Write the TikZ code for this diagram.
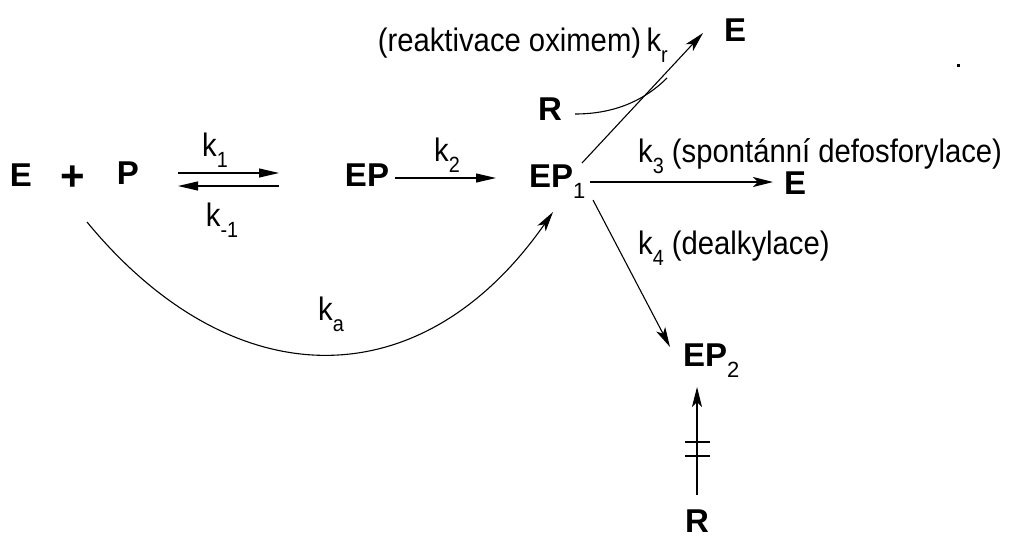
\documentclass[tikz,border=0pt]{standalone}
\usepackage{fontspec}
\setmainfont{Liberation Sans}
\newfontfamily\lblfont{Liberation Sans}[FakeStretch=0.9]
\usetikzlibrary{arrows.meta}
\newcommand\mysub[1]{\raisebox{-0.33em}{\fontsize{22}{22}\selectfont\mdseries #1}}
\begin{document}
\begin{tikzpicture}[x=1pt,y=-1pt,
  every node/.style={inner sep=0pt},
  sp/.style={font=\fontsize{33}{33}\selectfont\bfseries},
  lbl/.style={font=\lblfont\fontsize{32.5}{32.5}\selectfont},
  conn/.style={line width=1.1pt,-{Stealth[length=20pt,width=10pt,inset=5pt]}},
  tri/.style={line width=1.1pt,-{Triangle[length=20pt,width=9pt]}},
  plain/.style={line width=1.1pt}]
\useasboundingbox (0,0) rectangle (1013,539);
% species
\node[sp] (E0) at (21,175) {E};
\node[sp,font=\fontsize{42}{42}\selectfont\bfseries] (plus) at (73,178) {+};
\node[sp] (P) at (128,173) {P};
\node[sp] (EP) at (367,175) {EP};
\node[sp,anchor=west] (EP1) at (529,182) {EP\mysub{1}};
\node[sp] (Etop) at (735,30) {E};
\node[sp] (R1) at (550,109) {R};
\node[sp] (E3) at (795,183) {E};
\node[sp,anchor=west] (EP2) at (683,361) {EP\mysub{2}};
\node[sp] (R2) at (697,521) {R};
% labels
\node[lbl] (k1) at (215,150) {k\mysub{1}};
\node[lbl] (km1) at (222,220) {k\mysub{-1}};
\node[lbl] (k2) at (447,155) {k\mysub{2}};
\node[lbl] (ka) at (331,314) {k\mysub{a}};
\node[lbl,anchor=east] (kr) at (668,45) {(reaktivace oximem)\,k\mysub{r}};
\node[lbl,anchor=west] (k3) at (638,156) {k\mysub{3} (spontánní defosforylace)};
\node[lbl,anchor=west] (k4) at (638,248) {k\mysub{4} (dealkylace)};
% connector end points
\coordinate (a1) at (178,173); \coordinate (a2) at (279,173);
\coordinate (b1) at (279,186); \coordinate (b2) at (178,186);
\coordinate (c1) at (395,178); \coordinate (c2) at (496,178);
\coordinate (d1) at (582,163); \coordinate (d2) at (703,33);
\coordinate (e1) at (590,182); \coordinate (e2) at (773,182);
\coordinate (f1) at (593,200); \coordinate (f2) at (670,347);
\coordinate (g1) at (697,495); \coordinate (g2) at (697,387);
\coordinate (h1) at (87,222);  \coordinate (h2) at (553,212);
\coordinate (r1) at (575,114); \coordinate (r2) at (667,78);
% connectors
\draw[tri] (a1) -- (a2);
\draw[tri] (b1) -- (b2);
\draw[tri] (c1) -- (c2);
\draw[conn] (d1) -- (d2);
\draw[conn] (e1) -- (e2);
\draw[conn] (f1) -- (f2);
\draw[conn] (g1) -- (g2);
\draw[conn] (h1) .. controls (232,398) and (421,401) .. (h2);
\draw[plain] (r1) .. controls (615,114) and (645,100) .. (r2);
% ticks
\draw[plain] (685,442) -- (710,442);
\draw[plain] (685,456) -- (710,456);
% stray dot
\fill (957,64) rectangle (960,67);
\end{tikzpicture}
\end{document}
